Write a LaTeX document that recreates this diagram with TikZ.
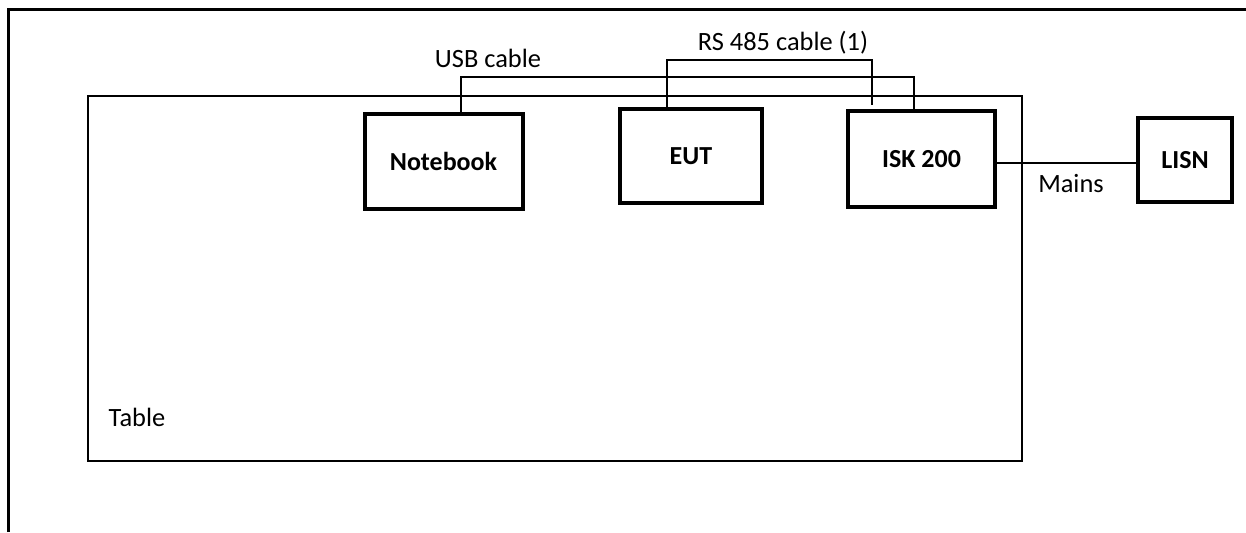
\documentclass[tikz,border=0pt]{standalone}
\usepackage{fontspec}
\setmainfont{Carlito}
\usetikzlibrary{positioning}

\begin{document}
\begin{tikzpicture}[x=0.5pt, y=-0.5pt,
        font=\fontsize{13.2pt}{16pt}\selectfont,
        unit/.style={draw, line width=2pt, inner sep=0pt,
            font=\fontsize{13pt}{16pt}\selectfont\bfseries},
        tablebox/.style={draw, line width=1.1pt, inner sep=0pt},
        cable/.style={line width=1.1pt},
        frame/.style={line width=1.5pt}]
        \useasboundingbox (0,0) rectangle (1246,532);
        \draw[frame] (8,532) |- (1246,9);

        \node[tablebox, minimum width=467pt, minimum height=182.5pt] (table) at (555,278.5) {};
        \node (tablelbl) at (137,417) {Table};

        \node[unit, minimum width=79pt, minimum height=47.5pt] (nb) at (443.5,161.5) {Notebook};
        \node[unit, minimum width=71pt, minimum height=47pt] (eut) at (691,156) {EUT};
        \node[unit, minimum width=73.5pt, minimum height=48pt] (isk) at (921.5,159) {ISK 200};
        \node[unit, minimum width=47pt, minimum height=42pt] (lisn) at (1185,160) {LISN};

        \coordinate (rsend) at (872,105);
        \draw[cable] ([xshift=8.75pt]nb.north) -- ++(0,-35) -| ([xshift=-3.75pt]isk.north);
        \draw[cable] ([xshift=-12pt]eut.north) -- ++(0,-47) -| (rsend);
        \draw[cable] ([yshift=-2pt]isk.east) -- ([yshift=-1.5pt]lisn.west);

        \node (usb) at (488,58) {USB cable};
        \node (rs) at (783,43) {RS 485 cable (1)};
        \node (mains) at (1071,184) {Mains};
    \end{tikzpicture}
\end{document}
